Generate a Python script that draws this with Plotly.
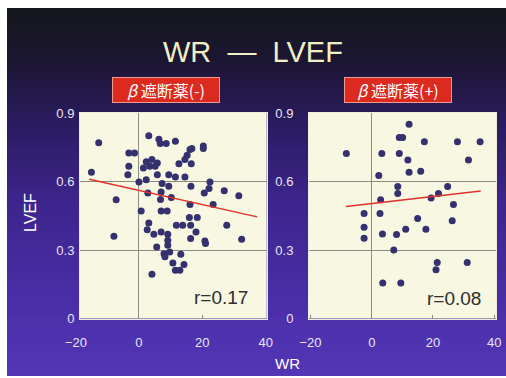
import plotly.graph_objects as go

# --- data -------------------------------------------------------------
# beta-blocker (-) group
wr_neg = [-12.7, -15.0, -7.2, -3.2, -1.4, -3.2, -3.5, 3.1, 6.3, 6.7, 8.6, 11.5,
          4.1, 2.3, 5.8, 1.4, 3.4, 5.1, 5.8, 9.4, 11.5, 2.3, 0.0, 7.3, 9.4,
          2.8, 7.0, 6.8, 10.2, 0.7, 7.0, 8.9, -7.9, 3.1, 2.6, 4.7, 7.0, 9.1,
          9.1, 5.6, 9.1, 7.9, 8.2, 9.7, 10.7, 11.5, 4.1, 11.8, 16.7, 20.3,
          20.3, 16.1, 15.2, 14.5, 16.5, 12.6, 14.5, 16.4, 22.4, 22.1, 20.6,
          26.9, 31.5, 16.1, 23.4, 15.9, 18.4, 13.8, 16.3, 18.0, 16.3, 20.8,
          21.0, 27.7, 32.4, 13.2, 14.2, 12.9]
ef_neg = [0.770, 0.640, 0.520, 0.725, 0.725, 0.667, 0.630, 0.800, 0.785, 0.766,
          0.766, 0.776, 0.696, 0.686, 0.681, 0.659, 0.667, 0.667, 0.630, 0.630,
          0.620, 0.608, 0.598, 0.591, 0.579, 0.550, 0.554, 0.521, 0.530, 0.471,
          0.471, 0.471, 0.360, 0.418, 0.389, 0.369, 0.379, 0.369, 0.343, 0.313,
          0.321, 0.284, 0.270, 0.291, 0.243, 0.211, 0.194, 0.408, 0.744, 0.756,
          0.744, 0.740, 0.715, 0.696, 0.678, 0.678, 0.620, 0.579, 0.598, 0.569,
          0.550, 0.559, 0.538, 0.499, 0.499, 0.442, 0.442, 0.408, 0.408, 0.379,
          0.350, 0.339, 0.328, 0.408, 0.347, 0.281, 0.236, 0.211]
fit_neg_x = [-15.7, 37.3]
fit_neg_y = [0.610, 0.445]
r_neg = "r=0.17"

# beta-blocker (+) group
wr_pos = [-8.3, 3.3, 9.0, 9.0, 10.1, 2.3, 8.5, 8.5, 2.9, -2.5, 2.7, -2.5, -2.5,
          3.5, 8.1, 11.1, 7.2, 3.6, 9.5, 12.2, 17.2, 28.0, 35.4, 31.6, 11.8,
          12.2, 16.0, 24.8, 21.8, 19.4, 26.7, 15.0, 26.3, 17.7, 21.4, 21.0,
          31.2]
ef_pos = [0.723, 0.723, 0.723, 0.793, 0.793, 0.626, 0.578, 0.547, 0.520, 0.460,
          0.460, 0.400, 0.351, 0.370, 0.368, 0.391, 0.300, 0.155, 0.155, 0.851,
          0.774, 0.774, 0.774, 0.694, 0.694, 0.641, 0.645, 0.578, 0.547, 0.528,
          0.499, 0.438, 0.428, 0.391, 0.245, 0.213, 0.245]
fit_pos_x = [-8.4, 35.6]
fit_pos_y = [0.491, 0.558]
r_pos = "r=0.08"

y_ticks = [0, 0.3, 0.6, 0.9]
x_ticks = [-20, 0, 20, 40]
panel_titles = ["<i>β</i> 遮断薬(-)", "<i>β</i> 遮断薬(+)"]

# --- styling ----------------------------------------------------------
W, H = 506, 378
FONT = "Liberation Sans, Arial, sans-serif"
CJK = "Noto Sans CJK JP, sans-serif"
DOT = "#34316e"
FIT = "#e0322a"
GRID = "#8d8c84"
PLOT_BG = "#f7f7e2"
TICK_COL = "#e8e6f4"

X1_RANGE = [-18.6, 40.3]
X2_RANGE = [-20.5, 40.6]
Y_RANGE = [0, 0.9]
X1_DOM = [80, 266.7]
X2_DOM = [309, 496]
Y_DOM = [318.5, 113]


def px(x):
    return x / W


def py(y):
    return 1 - y / H


fig = go.Figure()

fig.add_trace(go.Scatter(x=wr_neg, y=ef_neg, mode="markers",
                         marker=dict(size=7, color=DOT),
                         xaxis="x", yaxis="y", hoverinfo="skip"))
fig.add_trace(go.Scatter(x=fit_neg_x, y=fit_neg_y, mode="lines",
                         line=dict(color=FIT, width=1.5),
                         xaxis="x", yaxis="y", hoverinfo="skip"))
fig.add_trace(go.Scatter(x=wr_pos, y=ef_pos, mode="markers",
                         marker=dict(size=7, color=DOT),
                         xaxis="x2", yaxis="y2", hoverinfo="skip"))
fig.add_trace(go.Scatter(x=fit_pos_x, y=fit_pos_y, mode="lines",
                         line=dict(color=FIT, width=1.5),
                         xaxis="x2", yaxis="y2", hoverinfo="skip"))

# slide background: vertical gradient from near-black to violet.
# Each band runs to the bottom edge so no seams appear between bands.
stops = [(8, (20, 24, 28)), (60, (28, 22, 50)), (120, (42, 27, 94)),
         (200, (60, 37, 140)), (300, (74, 46, 168)), (376, (82, 54, 182))]


def grad_color(y):
    for (y0, c0), (y1, c1) in zip(stops[:-1], stops[1:]):
        if y0 <= y <= y1:
            t = (y - y0) / (y1 - y0)
            return "rgb(%d,%d,%d)" % tuple(round(a + (b - a) * t) for a, b in zip(c0, c1))
    return "rgb(%d,%d,%d)" % stops[-1][1]


shapes = []
top, bottom = 8, 376
n_bands = 120
step = (bottom - top) / n_bands
for i in range(n_bands):
    y0 = top + i * step
    shapes.append(dict(type="rect", xref="paper", yref="paper", layer="below",
                       x0=px(7), x1=1.0, y0=py(bottom), y1=py(y0),
                       fillcolor=grad_color(y0 + step / 2), line=dict(width=0)))

# cream panel faces, laid over the gradient
for dom in (X1_DOM, X2_DOM):
    shapes.append(dict(type="rect", xref="paper", yref="paper", layer="below",
                       x0=px(dom[0]), x1=px(dom[1]), y0=py(Y_DOM[0]), y1=py(Y_DOM[1]),
                       fillcolor=PLOT_BG, line=dict(width=0)))

tickfont = dict(family=FONT, size=13, color=TICK_COL)
y_dom = [py(Y_DOM[0]), py(Y_DOM[1])]

common_x = dict(showgrid=False, zeroline=True, zerolinecolor=GRID, zerolinewidth=1,
                showline=True, mirror=True, linecolor="#eeedda", linewidth=1,
                ticks="inside", ticklen=4, tickcolor=GRID, tickfont=tickfont,
                ticklabelstandoff=12, fixedrange=True, automargin=False)
common_y = dict(range=Y_RANGE, tickvals=y_ticks, showgrid=True, gridcolor=GRID,
                gridwidth=1, zeroline=False, showline=True, mirror=True,
                linecolor="#eeedda", linewidth=1, ticks="", tickfont=tickfont,
                fixedrange=True, domain=y_dom, automargin=False)

fig.update_layout(
    width=W, height=H, margin=dict(l=0, r=0, t=0, b=0, pad=0, autoexpand=False),
    paper_bgcolor="white", plot_bgcolor="rgba(0,0,0,0)", showlegend=False,
    shapes=shapes,
    xaxis=dict(domain=[px(X1_DOM[0]), px(X1_DOM[1])], range=X1_RANGE,
               tickvals=[v for v in x_ticks if v >= X1_RANGE[0]], anchor="y", **common_x),
    yaxis=dict(anchor="x", ticklabelstandoff=2, **common_y),
    xaxis2=dict(domain=[px(X2_DOM[0]), px(X2_DOM[1])], range=X2_RANGE,
                tickvals=x_ticks, anchor="y2", **common_x),
    yaxis2=dict(anchor="x2", ticklabelstandoff=12, **common_y),
)


def label(text, x, y, **kw):
    return dict(text=text, x=x, y=y, xref="paper", yref="paper", showarrow=False,
                xanchor="center", yanchor="middle", **kw)


ann = []
ann.append(label("WR  —  LVEF", 0.5, py(52),
                 font=dict(family=FONT, size=29, color="#f1efc4")))
for title, cx in zip(panel_titles, [166, 397.5]):
    ann.append(label(title, px(cx), py(90), width=104, height=22, borderpad=1,
                     bgcolor="#dd2a1f", bordercolor="#f09a90", borderwidth=1,
                     font=dict(family=CJK, size=16, color="white")))
ann.append(label("LVEF", px(30), py(213), textangle=-90,
                 font=dict(family=FONT, size=16, color="white")))
ann.append(label("WR", px(287), py(363),
                 font=dict(family=FONT, size=15, color="white")))
# the -20 tick label of the first panel falls just left of its frame
x1_scale = (X1_DOM[1] - X1_DOM[0]) / (X1_RANGE[1] - X1_RANGE[0])
ann.append(label("\u221220", px(X1_DOM[0] + (x_ticks[0] - X1_RANGE[0]) * x1_scale),
                 py(342), font=tickfont))
ann.append(label(r_neg, px(221), py(297),
                 font=dict(family=FONT, size=19, color="#2e2e2e")))
ann.append(label(r_pos, px(454), py(298),
                 font=dict(family=FONT, size=19, color="#2e2e2e")))
fig.update_layout(annotations=ann)

fig.write_html("out.html")
